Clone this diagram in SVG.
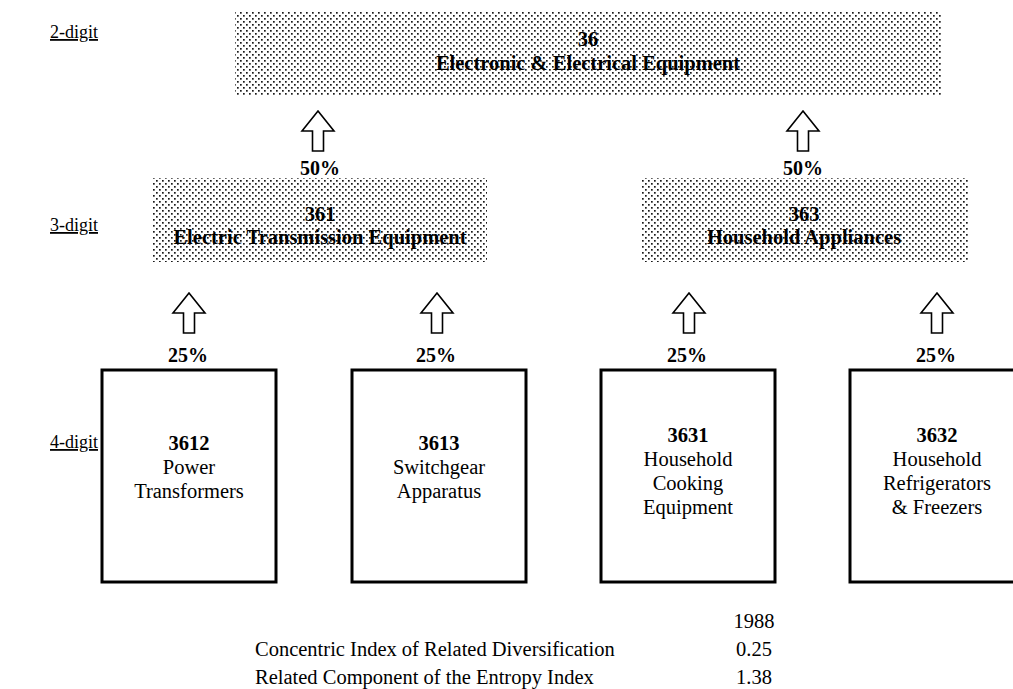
<svg xmlns="http://www.w3.org/2000/svg" width="1013" height="689" viewBox="0 0 1013 689">
  <defs>
    <!-- halftone dot fill for aggregate industry levels -->
    <pattern id="dots" width="6" height="6" patternUnits="userSpaceOnUse">
      <rect x="0" y="0" width="1.7" height="1.7" fill="#1a1a1a"/>
      <rect x="3" y="3" width="1.7" height="1.7" fill="#1a1a1a"/>
    </pattern>
    <!-- hollow block arrow pointing up, origin at tip -->
    <path id="uparrow" d="M0,0 L16,20 L5.5,20 L5.5,40 L-5.5,40 L-5.5,20 L-16,20 Z"/>
  </defs>
  <style>
    text { font-family: "Liberation Serif", "Times New Roman", serif; fill: #000; }
    .lvl { font-size: 18px; text-decoration: underline; }
    .hd { font-size: 20.5px; font-weight: bold; text-anchor: middle; }
    .pct { font-size: 20px; font-weight: bold; text-anchor: middle; }
    .code { font-size: 20.5px; font-weight: bold; text-anchor: middle; }
    .name { font-size: 20.5px; text-anchor: middle; }
    .tbl { font-size: 20.5px; }
    .num { font-size: 20.5px; text-anchor: middle; }
    .shade { fill: url(#dots); stroke: none; }
    .leaf { fill: #fff; stroke: #000; stroke-width: 3; }
    .arrow { fill: #fff; stroke: #000; stroke-width: 1.6; }
  </style>
  <rect width="1013" height="689" fill="#fff"/>

  <!-- level labels -->
  <g id="levels">
    <text class="lvl" x="50" y="38">2-digit</text>
    <text class="lvl" x="50" y="231">3-digit</text>
    <text class="lvl" x="50" y="448">4-digit</text>
  </g>

  <!-- 2-digit group -->
  <g id="n36">
    <rect class="shade" x="235" y="12" width="707" height="83"/>
    <text class="hd" x="588" y="46">36</text>
    <text class="hd" x="588" y="70">Electronic &amp; Electrical Equipment</text>
  </g>

  <!-- 3-digit groups -->
  <g id="n361">
    <rect class="shade" x="153" y="178" width="334" height="84"/>
    <text class="hd" x="320" y="221">361</text>
    <text class="hd" x="320" y="244">Electric Transmission Equipment</text>
  </g>
  <g id="n363">
    <rect class="shade" x="641" y="178" width="327" height="84"/>
    <text class="hd" x="804" y="221">363</text>
    <text class="hd" x="804" y="244">Household Appliances</text>
  </g>

  <!-- 4-digit industries -->
  <g id="n3612">
    <rect class="leaf" x="102" y="370" width="174" height="212"/>
    <text class="code" x="189" y="450">3612</text>
    <text class="name" x="189" y="474">Power</text>
    <text class="name" x="189" y="498">Transformers</text>
  </g>
  <g id="n3613">
    <rect class="leaf" x="352" y="370" width="174" height="212"/>
    <text class="code" x="439" y="450">3613</text>
    <text class="name" x="439" y="474">Switchgear</text>
    <text class="name" x="439" y="498">Apparatus</text>
  </g>
  <g id="n3631">
    <rect class="leaf" x="601" y="370" width="174" height="212"/>
    <text class="code" x="688" y="442">3631</text>
    <text class="name" x="688" y="466">Household</text>
    <text class="name" x="688" y="490">Cooking</text>
    <text class="name" x="688" y="514">Equipment</text>
  </g>
  <g id="n3632">
    <rect class="leaf" x="850" y="370" width="174" height="212"/>
    <text class="code" x="937" y="442">3632</text>
    <text class="name" x="937" y="466">Household</text>
    <text class="name" x="937" y="490">Refrigerators</text>
    <text class="name" x="937" y="514">&amp; Freezers</text>
  </g>

  <!-- connectors: hollow arrows with share labels -->
  <g id="connectors">
    <use href="#uparrow" class="arrow" x="318" y="111"/>
    <use href="#uparrow" class="arrow" x="803" y="111"/>
    <text class="pct" x="320" y="175">50%</text>
    <text class="pct" x="803" y="175">50%</text>

    <use href="#uparrow" class="arrow" x="189" y="293"/>
    <use href="#uparrow" class="arrow" x="437" y="293"/>
    <use href="#uparrow" class="arrow" x="689" y="293"/>
    <use href="#uparrow" class="arrow" x="937" y="293"/>
    <text class="pct" x="188" y="362">25%</text>
    <text class="pct" x="436" y="362">25%</text>
    <text class="pct" x="687" y="362">25%</text>
    <text class="pct" x="936" y="362">25%</text>
  </g>

  <!-- summary indices -->
  <g id="summary">
    <text class="num" x="754" y="628">1988</text>
    <text class="tbl" x="255" y="656">Concentric Index of Related Diversification</text>
    <text class="num" x="754" y="656">0.25</text>
    <text class="tbl" x="255" y="684">Related Component of the Entropy Index</text>
    <text class="num" x="754" y="684">1.38</text>
  </g>
</svg>
